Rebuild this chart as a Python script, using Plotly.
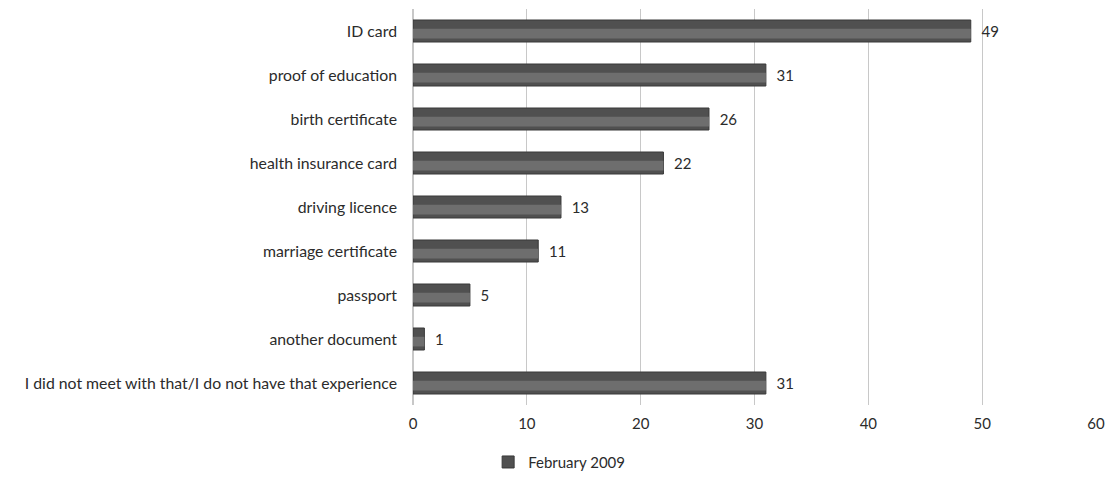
import plotly.graph_objects as go

categories = [
    "ID card",
    "proof of education",
    "birth certificate",
    "health insurance card",
    "driving licence",
    "marriage certificate",
    "passport",
    "another document",
    "I did not meet with that/I do not have that experience",
]
values_feb_2009 = [49, 31, 26, 22, 13, 11, 5, 1, 31]
x_ticks = [0, 10, 20, 30, 40, 50, 60]
series_name = "February 2009"

font_family = "Lato, Open Sans, DejaVu Sans, sans-serif"
text_color = "#2b2b2b"

fig = go.Figure()

# main bars (dark grey body)
fig.add_trace(go.Bar(
    y=categories,
    x=values_feb_2009,
    orientation="h",
    name=series_name,
    marker=dict(color="#505050", line=dict(color="#383838", width=1)),
    texttemplate="  %{x}",
    textposition="outside",
    textfont=dict(size=15, color=text_color, family=font_family),
    cliponaxis=False,
    width=0.5,
))

# lighter band in the upper middle of each bar for a rounded look
fig.add_trace(go.Bar(
    y=categories,
    x=values_feb_2009,
    orientation="h",
    marker=dict(color="#6e6e6e", line=dict(width=0)),
    width=0.22,
    offset=-0.17,
    showlegend=False,
    hoverinfo="skip",
))

fig.update_layout(
    width=1117,
    height=478,
    margin=dict(l=413, r=21, t=9, b=73, autoexpand=False),
    paper_bgcolor="white",
    plot_bgcolor="white",
    barmode="overlay",
    font=dict(family=font_family, size=15, color=text_color),
    showlegend=True,
    legend=dict(
        orientation="h",
        x=0.437,
        y=0.033,
        xref="container",
        yref="container",
        xanchor="left",
        yanchor="middle",
        font=dict(size=15, color=text_color),
        itemwidth=30,
    ),
    xaxis=dict(
        range=[0, 60],
        tickvals=x_ticks,
        showgrid=True,
        gridcolor="#c8c8c8",
        gridwidth=1,
        zeroline=True,
        zerolinecolor="#c8c8c8",
        showline=False,
        ticks="",
        tickfont=dict(size=15, color=text_color),
        ticklabelstandoff=8,
    ),
    yaxis=dict(
        categoryorder="array",
        categoryarray=categories[::-1],
        showgrid=False,
        showline=False,
        ticks="",
        ticklabelstandoff=15,
        tickfont=dict(size=15.8, color=text_color),
    ),
)

fig.write_html("out.html")
